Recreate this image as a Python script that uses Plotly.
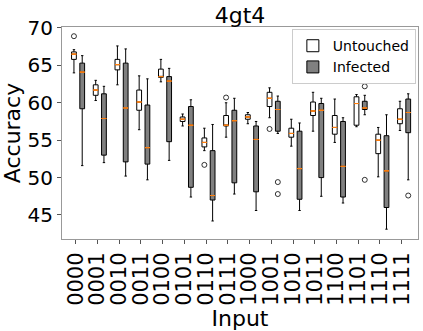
import plotly.graph_objects as go

# accuracy box stats per input
inputs = ["0000", "0001", "0010", "0011", "0100", "0101", "0110", "0111",
          "1000", "1001", "1010", "1011", "1100", "1101", "1110", "1111"]

untouched_lo = [64.0, 60.3, 62.4, 56.4, 62.8, 56.9, 53.6, 55.4, 57.2, 58.0, 54.2, 56.2, 54.7, 56.8, 50.1, 56.3]
untouched_q1 = [65.8, 61.0, 64.4, 59.0, 63.4, 57.5, 54.1, 56.9, 57.8, 59.5, 55.4, 58.3, 55.8, 57.0, 53.2, 57.2]
untouched_med = [66.5, 61.7, 65.1, 60.1, 63.5, 57.8, 54.7, 57.0, 58.1, 60.6, 55.9, 58.9, 56.7, 59.9, 55.0, 57.8]
untouched_q3 = [66.8, 62.4, 65.8, 61.7, 64.5, 58.1, 55.3, 58.3, 58.4, 61.4, 56.6, 60.1, 58.3, 60.8, 55.8, 59.2]
untouched_hi = [67.1, 63.0, 67.6, 63.6, 65.8, 58.5, 56.6, 60.0, 58.7, 62.0, 57.8, 61.4, 60.5, 61.1, 56.7, 60.2]
untouched_out = [[68.9], [], [], [], [], [], [51.7], [60.7], [], [56.5], [], [63.0], [], [], [], []]

infected_lo = [51.6, 52.0, 50.2, 49.7, 52.3, 47.4, 44.2, 47.8, 45.6, 55.9, 45.6, 47.5, 46.6, 58.4, 43.1, 49.7]
infected_q1 = [59.2, 53.0, 52.1, 51.8, 54.8, 48.7, 47.0, 49.3, 48.1, 56.2, 47.1, 50.0, 47.4, 59.1, 46.0, 56.0]
infected_med = [64.1, 57.9, 59.3, 54.0, 62.9, 57.0, 47.6, 57.6, 55.1, 59.1, 51.2, 59.0, 51.5, 59.3, 50.9, 58.7]
infected_q3 = [65.3, 61.2, 65.3, 59.7, 63.5, 59.5, 53.6, 59.0, 56.9, 60.2, 56.2, 59.9, 57.5, 60.2, 55.6, 60.5]
infected_hi = [66.3, 62.2, 67.2, 63.2, 64.6, 60.4, 57.1, 60.6, 57.5, 60.9, 57.3, 60.6, 58.0, 61.0, 58.4, 61.2]
infected_out = [[], [], [], [], [], [], [], [], [], [49.4, 47.8], [], [], [], [62.2, 49.7], [], [47.6]]

n = len(inputs)
idx = list(range(n))
x_untouched = [i - 0.08 for i in idx]
x_infected = [i + 0.30 for i in idx]
box_w = 0.22

fig = go.Figure()


def add_group(xs, lo, q1, med, q3, hi, outs, name, fill):
    fig.add_trace(
        go.Box(
            x=xs, q1=q1, median=med, q3=q3, lowerfence=lo, upperfence=hi,
            name=name, fillcolor=fill, width=box_w, whiskerwidth=0.5,
            line=dict(color="black", width=1), boxpoints=False,
        )
    )
    # orange median line drawn as a flat box on top
    fig.add_trace(
        go.Box(
            x=xs, q1=med, median=med, q3=med, lowerfence=med, upperfence=med,
            fillcolor="rgba(0,0,0,0)", width=box_w, whiskerwidth=0,
            line=dict(color="#ff7f0e", width=1), boxpoints=False,
            showlegend=False, hoverinfo="skip",
        )
    )
    ox = [x for x, o in zip(xs, outs) for _ in o]
    oy = [v for o in outs for v in o]
    fig.add_trace(
        go.Scatter(
            x=ox, y=oy, mode="markers", showlegend=False,
            marker=dict(symbol="circle-open", size=5, color="black", line=dict(width=0.8)),
        )
    )


add_group(x_untouched, untouched_lo, untouched_q1, untouched_med, untouched_q3,
          untouched_hi, untouched_out, "Untouched", "white")
add_group(x_infected, infected_lo, infected_q1, infected_med, infected_q3,
          infected_hi, infected_out, "Infected", "#808080")

fig.update_layout(
    width=423,
    height=331,
    margin=dict(l=62, r=5, t=27, b=92),
    paper_bgcolor="white",
    plot_bgcolor="white",
    font=dict(family="DejaVu Sans", color="black"),
    title=dict(text="4gt4", x=(62 + 418) / 2 / 423, xanchor="center",
               y=1 - 15 / 331, yanchor="middle", font=dict(size=22)),
    showlegend=True,
    legend=dict(
        x=0.994, y=0.99, xanchor="right", yanchor="top",
        bordercolor="#cccccc", borderwidth=1, bgcolor="white",
        font=dict(size=14), tracegroupgap=0, itemwidth=30,
    ),
    boxmode="overlay",
)
fig.update_xaxes(
    range=[-0.63, 15.75], automargin=False,
    tickmode="array", tickvals=idx, ticktext=inputs, tickangle=-90,
    tickfont=dict(size=21), ticks="outside", ticklen=4, tickcolor="#555",
    showline=True, mirror=True, linecolor="#999", linewidth=1,
    showgrid=False, zeroline=False,
    title=dict(text="Input", font=dict(size=22), standoff=2),
)
fig.update_yaxes(
    range=[41.79, 70.13], automargin=False,
    tickvals=[45, 50, 55, 60, 65, 70],
    tickfont=dict(size=20), ticks="outside", ticklen=4, tickcolor="#555",
    showline=True, mirror=True, linecolor="#999", linewidth=1,
    showgrid=False, zeroline=False,
    title=dict(text="Accuracy", font=dict(size=22), standoff=2),
)

fig.write_html(
    "out.html",
    config={"displayModeBar": False},
    post_script="document.body.style.margin='0px';",
)
